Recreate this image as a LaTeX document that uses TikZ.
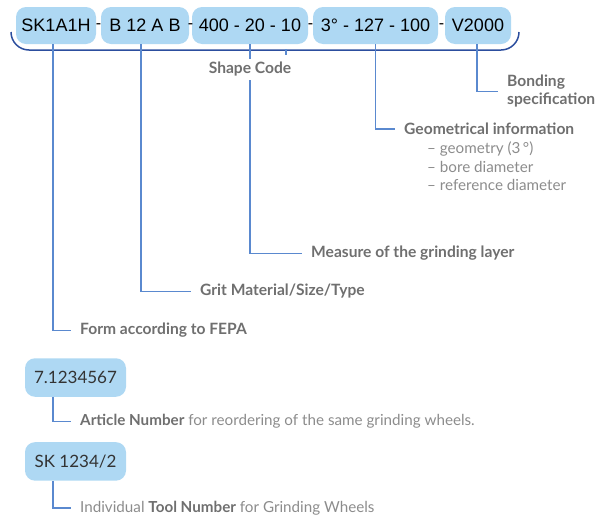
\documentclass[tikz,border=0pt]{standalone}
\usepackage{fontspec}
\setmainfont{Lato}
\newfontfamily\codefont{Liberation Sans}
\usetikzlibrary{positioning}
\definecolor{boxblue}{HTML}{AED8F3}
\definecolor{bracketblue}{HTML}{2C4E9E}
\definecolor{linkblue}{HTML}{5A89CF}
\definecolor{labelgrey}{HTML}{6F6F6F}
\definecolor{notegrey}{HTML}{8C8C8C}

\begin{document}
\begin{tikzpicture}[
    x=1pt, y=-1pt,
    codebox/.style={rectangle, rounded corners=10pt, fill=boxblue, inner sep=0pt, minimum height=37pt, text=black, font=\codefont\fontsize{18}{20}\selectfont},
    numbox/.style={codebox, minimum width=101pt, minimum height=38.5pt, text=black!80, font=\fontsize{17}{20}\selectfont},
    hyph/.style={inner sep=0pt, text=black, font=\codefont\fontsize{16}{18}\selectfont},
    partlabel/.style={anchor=west, inner sep=0pt, align=left, text=labelgrey, font=\bfseries\fontsize{15.6}{18}\selectfont},
    notelabel/.style={anchor=west, inner sep=0pt, align=left, text=notegrey, font=\fontsize{15.2}{18.5}\selectfont},
    link/.style={draw=linkblue, line width=1.2pt, shorten >=9pt},
    bracket/.style={draw=bracketblue, line width=1.5pt, rounded corners=18pt}
]
\useasboundingbox (0,0) rectangle (612,517);

\node[codebox, minimum width=80pt] (form) at (56,25.5) {SK1A1H};
\node[codebox, minimum width=88pt] (grit) at (145,25.5) {B 12 A B};
\node[codebox, minimum width=116pt] (shape) at (250,25.5) {400 - 20 - 10};
\node[codebox, minimum width=125pt] (geom) at (375.5,25.5) {3° - 127 - 100};
\node[codebox, minimum width=66pt] (bond) at (478,25.5) {V2000};
\node[hyph] at (98.5,26) {-};
\node[hyph] at (190.5,26) {-};
\node[hyph] at (310.5,26) {-};
\node[hyph] at (441.5,26) {-};

\coordinate (bracketL) at (11,32);
\coordinate (bracketR) at (519,32);
\draw[bracket] (bracketL) |- ++(508,18) -- (bracketR);

\node[partlabel] (bondlbl) at (507,91.5) {Bonding\\specification};
\node[partlabel] (geomlbl) at (404,129) {Geometrical information};
\node[notelabel] (geomlist) at (427,166.5) {– geometry (3\,°)\\– bore diameter\\– reference diameter};
\node[partlabel] (layerlbl) at (311,253.5) {Measure of the grinding layer};
\node[partlabel] (gritlbl) at (200,291.5) {Grit Material/Size/Type};
\node[partlabel] (formlbl) at (80,330.5) {Form according to FEPA};

\node[numbox] (article) at (75.5,377.5) {7.1234567};
\node[numbox, below=45pt of article] (tool) {SK 1234/2};
\node[notelabel] (articlelbl) at (80,421.5) {{\color{labelgrey}\bfseries Article Number} for reordering of the same grinding wheels.};
\node[notelabel] (toollbl) at (80,508) {Individual {\color{labelgrey}\bfseries Tool Number} for Grinding Wheels};

\draw[link] ([xshift=-3pt]form.south) |- (formlbl.west);
\draw[link] ([xshift=-4pt]grit.south) |- (gritlbl.west);
\draw[link] (shape.south) |- (layerlbl.west);
\draw[link, shorten >=0pt] ([xshift=36pt]shape.south) ++(0,5) -- ++(0,5.5);
\draw[link] (geom.south) |- (geomlbl.west);
\draw[link] ([xshift=-1pt]bond.south) |- (bondlbl.west);
\draw[link] ([xshift=-22.5pt]article.south) |- (articlelbl.west);
\draw[link] ([xshift=-22.5pt]tool.south) |- (toollbl.west);

\node[partlabel, anchor=center, fill=white, inner sep=3pt] (shapelbl) at (250,69.5) {Shape Code};
\end{tikzpicture}
\end{document}
